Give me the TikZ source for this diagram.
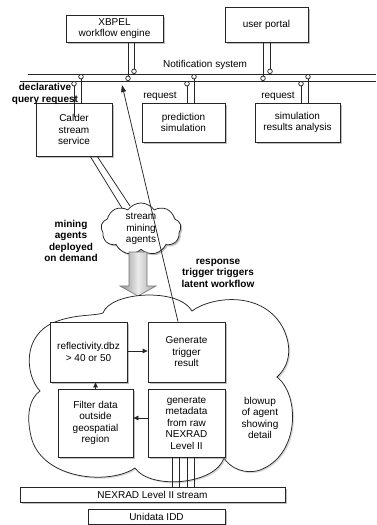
\documentclass[tikz,border=0pt]{standalone}
\usepackage{fontspec}
\setmainfont{Liberation Sans}
\usetikzlibrary{shapes.symbols,shadows,arrows.meta}
\begin{document}
\begin{tikzpicture}[x=1pt,y=-1pt,line width=0.75pt,
  txt/.style={font=\fontsize{10}{11.5}\selectfont,align=center,inner sep=0pt},
  btxt/.style={font=\bfseries\fontsize{10}{11.5}\selectfont,align=center,inner sep=0pt},
  shad/.style={drop shadow={shadow xshift=1.6pt,shadow yshift=-1.6pt,fill=black!45,opacity=0.55}},
  box/.style={draw=black!85,fill=white,shad,txt},
  lolli/.style={circle,draw=black!85,fill=white,minimum size=4.6pt,inner sep=0pt},
  arr/.style={-{Triangle[length=5pt,width=4.5pt]}},
  ln/.style={draw=black!85}]
\useasboundingbox (0,0) rectangle (376,525);

% bus
\coordinate (u0) at (28,74); \coordinate (u1) at (376,74);
\coordinate (l0) at (20,81); \coordinate (l1) at (376,81);
\draw[ln] (u0) -- (u1);
\draw[ln] (l0) -- (l1);
\node[txt] (notif) at (205,65) {Notification system};

% top boxes
\node[box,minimum width=97pt,minimum height=27pt] (xbpel) at (114.5,28.5) {XBPEL\\workflow engine};
\node[box,minimum width=83pt,minimum height=35pt] (portal) at (266.5,24.5) {user portal};

% lower boxes
\node[box,minimum width=76pt,minimum height=53pt] (calder) at (74,129.5) {Calder\\stream\\service};
\node[box,minimum width=83pt,minimum height=39pt] (pred) at (183.5,122.5) {prediction\\simulation};
\node[box,minimum width=85pt,minimum height=39pt] (simres) at (297.5,122.5) {simulation\\results analysis};

% lollipops
\node[lolli] (cA) at (134,71.3) {};
\node[lolli] (cB) at (128,78.3) {};
\node[lolli] (cC) at (270,71.3) {};
\node[lolli] (cD) at (263,78.3) {};
\node[lolli] (cE) at (81,76.7) {};
\node[lolli] (cF) at (74,83.7) {};
\node[lolli] (cG) at (194,76.7) {};
\node[lolli] (cH) at (187,83.7) {};
\node[lolli] (cI) at (308,76.7) {};
\node[lolli] (cJ) at (301,83.7) {};
\draw[ln] (cA |- xbpel.south) -- (cA.north);
\draw[ln] (cB |- xbpel.south) -- (cB.north);
\draw[ln] (cC |- portal.south) -- (cC.north);
\draw[ln] (cD |- portal.south) -- (cD.north);
\draw[ln] (cE.south) -- (cE |- calder.north);
\coordinate (calderIn) at (74,117);
\draw[ln] (cF.south) -- (calderIn);
\draw[ln] (cG.south) -- (cG |- pred.north);
\draw[ln] (cH.south) -- (cH |- pred.north);
\draw[ln] (cI.south) -- (cI |- simres.north);
\draw[ln] (cJ.south) -- (cJ |- simres.north);

\node[txt] (req1) at (160,96) {request};
\node[txt] (req2) at (278,96) {request};
\node[btxt] (decl) at (45,94) {declarative\\query request};

% calder to small cloud
\coordinate (k1) at (90,156); \coordinate (k2) at (97,156);
\coordinate (m1) at (125,213); \coordinate (m2) at (130,206);
\draw[ln] (k1) -- (m1);
\draw[ln] (k2) -- (m2);

% small cloud
\node[cloud,cloud puffs=9,cloud puff arc=110,draw=black!85,fill=white,shad,txt,
  minimum width=80pt,minimum height=52pt] (smc) at (141,229) {stream\\mining\\agents};

% big arrow
\path[draw=black!55,line width=0.6pt,left color=black!45,right color=black!35,middle color=black!8]
  (129,252) -- (147,252) -- (147,286) -- (156,286) -- (138,296) -- (120,286) -- (129,286) -- cycle;

\node[btxt] (mining) at (71,241) {mining\\agents\\deployed\\on demand};
\node[btxt] (resp) at (218,273) {response\\trigger triggers\\latent workflow};

% big cloud
\path[draw=black!85,fill=white,drop shadow={shadow xshift=1.5pt,shadow yshift=-1.5pt,fill=black!30,opacity=0.5}]
  (103,313) .. controls (110,292) and (178,287) .. (192,311)
  .. controls (212,296) and (265,290) .. (284,330)
  .. controls (292,348) and (290,365) .. (277,377)
  .. controls (300,395) and (300,455) .. (260,470)
  .. controls (245,475) and (230,468) .. (224,458)
  .. controls (215,485) and (150,490) .. (135,468)
  .. controls (110,485) and (45,480) .. (32,440)
  .. controls (25,415) and (30,398) .. (40,391)
  .. controls (25,375) and (22,335) .. (55,322)
  .. controls (75,314) and (95,316) .. (103,313) -- cycle;

% inner boxes
\node[box,minimum width=77pt,minimum height=60pt] (refl) at (88.5,352) {reflectivity.dbz\\> 40 or 50};
\node[box,minimum width=77pt,minimum height=60pt] (gen) at (186.5,352) {Generate\\trigger\\result};
\node[box,minimum width=75pt,minimum height=68pt] (filt) at (95.5,423) {Filter data\\outside\\geospatial\\region};
\node[box,minimum width=77pt,minimum height=68pt] (meta) at (186.5,423) {generate\\metadata\\from raw\\NEXRAD\\Level II};
\node[txt] (blow) at (260,418) {blowup\\of agent\\showing\\detail};

\draw[ln,arr] ([yshift=1pt]refl.east) -- ([yshift=1pt]gen.west);
\draw[ln,arr] ([yshift=5pt]meta.west) -- ([yshift=5pt]filt.east);
\draw[ln,arr] (filt.north) -- (filt.north |- refl.south);

% stream bars
\node[box,minimum width=265pt,minimum height=15pt] (nexrad) at (152.5,494.5) {NEXRAD Level II stream};
\node[box,minimum width=137pt,minimum height=15pt] (idd) at (156.5,516.5) {Unidata IDD};

\foreach \dx in {-14.5,-7.5,0.5,7.5}
  \draw[ln] ([xshift=\dx pt]meta.south) -- ([xshift=\dx pt]meta.south |- nexrad.north);

% trigger line
\coordinate (trigtip) at (122,85);
\draw[ln,-{Triangle[length=7pt,width=5pt]}] ([xshift=-8.5pt]gen.north) -- (trigtip);
\end{tikzpicture}
\end{document}
